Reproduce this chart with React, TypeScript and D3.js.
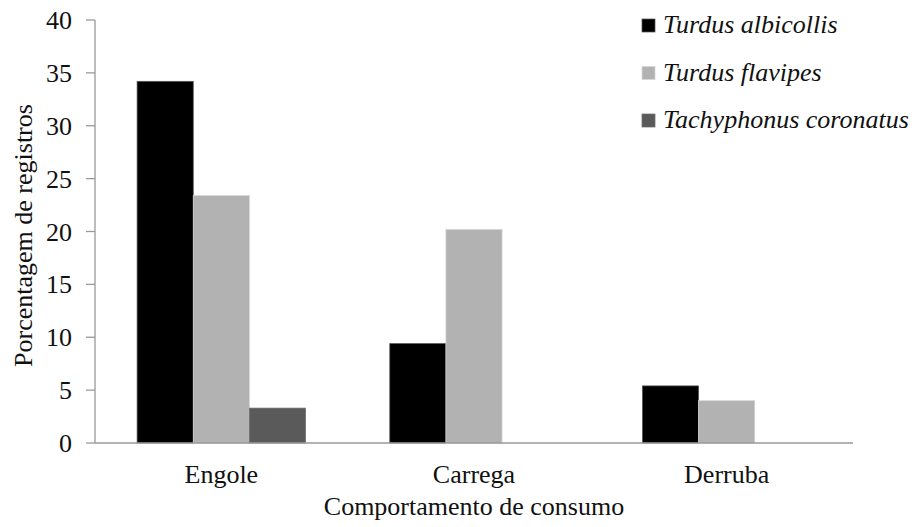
import React from "react";
import * as d3 from "d3";

const categories = ["Engole", "Carrega", "Derruba"];
const seriesNames = ["Turdus albicollis", "Turdus flavipes", "Tachyphonus coronatus"];
const turdusAlbicollis = [34.2, 9.4, 5.4];
const turdusFlavipes = [23.4, 20.2, 4.0];
const tachyphonusCoronatus = [3.3, 0, 0];
const yTicks = [0, 5, 10, 15, 20, 25, 30, 35, 40];

const seriesValues = [turdusAlbicollis, turdusFlavipes, tachyphonusCoronatus];
const fills = ["#000000", "#b2b2b2", "#5a5a5a"];
const strokes = ["#555555", "#d6d6d6", "#6e6e6e"];

const W = 920;
const H = 527;
const left = 95;
const right = 853;
const top = 20;
const bottom = 443;
const font = "Liberation Serif, DejaVu Serif, serif";
const txt: React.CSSProperties = { fontFamily: font, fontSize: "26px" };

export default function App() {
  const x = d3.scaleBand<string>().domain(categories).range([left, right]).padding(0);
  const y = d3.scaleLinear().domain([0, 40]).range([bottom, top]);
  const barW = x.bandwidth() / 4.5;
  const sub = d3
    .scaleBand<number>()
    .domain(seriesNames.map((_, i) => i))
    .range([-1.5 * barW, 1.5 * barW])
    .padding(0);

  return (
    <svg
      width={W}
      height={H}
      style={{ position: "absolute", left: 0, top: 0, background: "#fff" }}
    >
      <rect x={0} y={0} width={W} height={H} fill="#fff" />
      {categories.map((c, ci) => {
        const cx = (x(c) as number) + x.bandwidth() / 2;
        return seriesValues.map((vals, si) => {
          const v = vals[ci];
          if (!v) return null;
          return (
            <rect
              key={c + si}
              x={cx + (sub(si) as number)}
              y={y(v)}
              width={sub.bandwidth()}
              height={y(0) - y(v)}
              fill={fills[si]}
              stroke={strokes[si]}
              strokeWidth={0.75}
            />
          );
        });
      })}
      {/* y axis */}
      <line x1={left} x2={left} y1={top} y2={bottom} stroke="#999" strokeWidth={1.3} />
      {yTicks.map((t) => (
        <g key={t}>
          <line x1={left - 9} x2={left} y1={y(t)} y2={y(t)} stroke="#999" strokeWidth={1.3} />
          <text x={72} y={y(t)} dy="0.35em" textAnchor="end" style={txt} fill="#111">
            {t}
          </text>
        </g>
      ))}
      {/* x axis */}
      <line x1={left} x2={right} y1={bottom} y2={bottom} stroke="#999" strokeWidth={1.3} />
      {categories.map((c) => (
        <text
          key={c}
          x={(x(c) as number) + x.bandwidth() / 2}
          y={483}
          textAnchor="middle"
          style={txt}
          fill="#111"
        >
          {c}
        </text>
      ))}
      <text x={(left + right) / 2} y={515} textAnchor="middle" style={txt} fill="#111">
        Comportamento de consumo
      </text>
      <text
        transform={`translate(32, ${(top + bottom) / 2 + 4}) rotate(-90)`}
        textAnchor="middle"
        style={txt}
        fill="#111"
      >
        Porcentagem de registros
      </text>
      {/* legend */}
      {seriesNames.map((s, i) => (
        <g key={s} transform={`translate(642, ${19 + i * 47.5})`}>
          <rect x={0} y={0} width={13} height={13} fill={fills[i]} stroke={strokes[i]} strokeWidth={0.75} />
          <text x={21} y={14} style={{ ...txt, fontStyle: "italic" }} fill="#111">
            {s}
          </text>
        </g>
      ))}
    </svg>
  );
}
